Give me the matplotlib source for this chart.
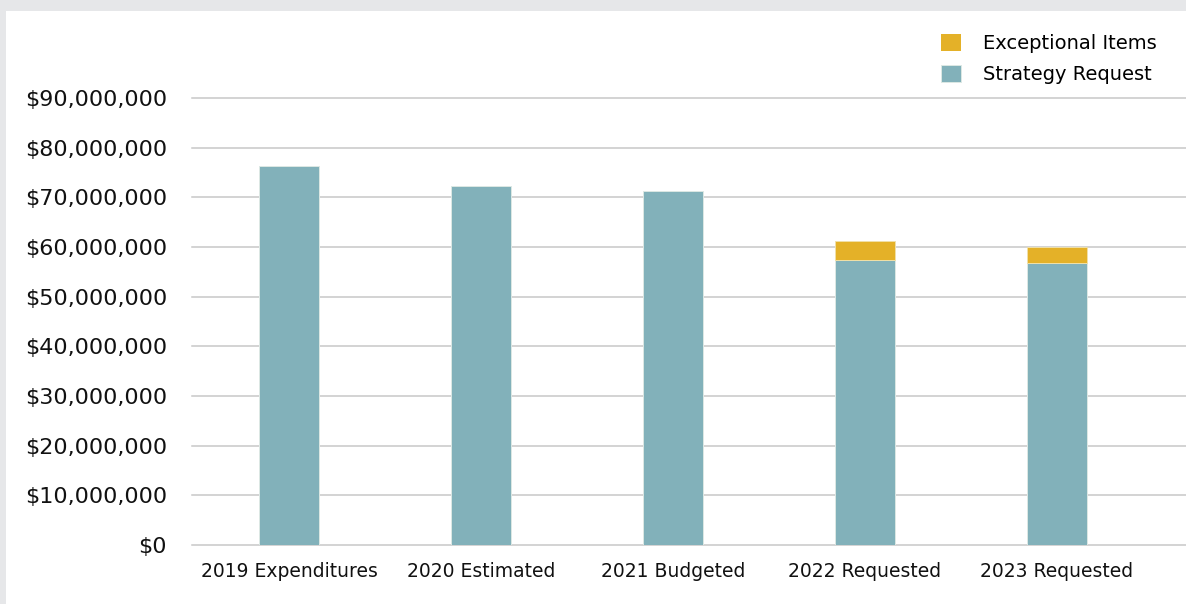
import numpy as np
import matplotlib.pyplot as plt
from matplotlib.patches import Rectangle
from matplotlib.ticker import FuncFormatter

categories = ['2019 Expenditures', '2020 Estimated', '2021 Budgeted',
              '2022 Requested', '2023 Requested']
strategy = [76300000, 72300000, 71300000, 57400000, 56800000]
exceptional = [0, 0, 0, 3800000, 3300000]

teal = '#82b1ba'
gold = '#e4b128'

plt.rcParams['font.family'] = 'DejaVu Sans'

fig = plt.figure(figsize=(11.86, 6.04), dpi=100, facecolor='#e6e7e9')
# white panel (screenshot border is grey)
fig.patches.append(Rectangle((6/1186, 0), 1 - 6/1186, 1 - 11/604,
                             transform=fig.transFigure, facecolor='white',
                             edgecolor='none', zorder=-10))

ax = fig.add_axes([192/1186, 59/604, 1 - 192/1186, 447/604])
ax.set_facecolor('none')

x = np.arange(len(categories))
b1 = ax.bar(x, strategy, width=0.3125, color=teal, edgecolor='#dce8e4',
            linewidth=0.7, label='Strategy Request', zorder=2)
# no outline on the empty exceptional segments
lw_exc = [0.7 if v > 0 else 0 for v in exceptional]
b2 = ax.bar(x, exceptional, width=0.3125, bottom=strategy, color=gold,
            edgecolor='#f0e0a8', linewidth=lw_exc, label='Exceptional Items', zorder=2)

ax.set_xlim(-0.505, 4.672)
ax.set_ylim(0, 90000000)
ax.set_yticks(np.arange(0, 90000001, 10000000))
ax.yaxis.set_major_formatter(FuncFormatter(lambda v, p: '${:,.0f}'.format(v)))
ax.set_xticks(x)
ax.set_xticklabels(categories)
ax.grid(axis='y', color='#c8c8c8', linewidth=1.1, clip_on=False)
ax.set_axisbelow(True)
for s in ax.spines.values():
    s.set_visible(False)
ax.tick_params(axis='y', length=0, pad=18, labelsize=16, labelcolor='#111111')
ax.tick_params(axis='x', length=0, pad=12, labelsize=13.5, labelcolor='#111111')

fig.legend(handles=[b2, b1], loc='upper left',
           bbox_to_anchor=(941/1186, 1 - 34/604), bbox_transform=fig.transFigure,
           frameon=False, fontsize=14, handlelength=1.03, handleheight=0.95,
           handletextpad=1.13, labelspacing=0.62, borderpad=0, borderaxespad=0)

plt.savefig('out.png', dpi=100, facecolor=fig.get_facecolor())
